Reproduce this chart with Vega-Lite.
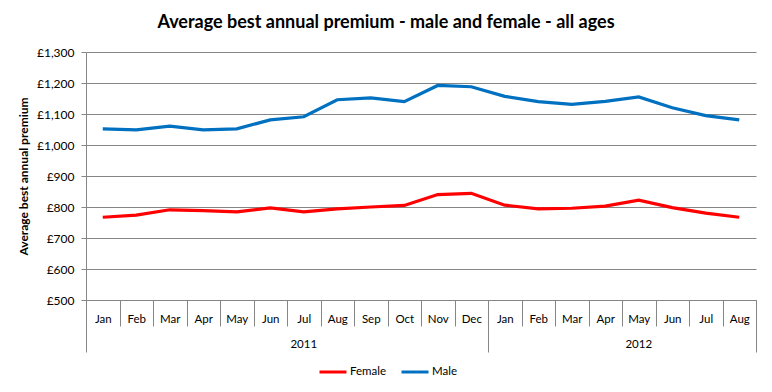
{
  "$schema": "https://vega.github.io/schema/vega-lite/v6.json",
  "autosize": "none",
  "width": 670,
  "height": 248,
  "padding": {"left": 86, "top": 52, "right": 16, "bottom": 92},
  "background": "white",
  "title": {
    "text": "Average best annual premium - male and female - all ages",
    "font": "Lato",
    "fontSize": 18,
    "fontWeight": "bold",
    "color": "#000000",
    "anchor": "middle",
    "dx": -35,
    "offset": 14
  },
  "config": {
    "view": {"stroke": null},
    "font": "Lato"
  },
  "data": {
    "values": [
      {"period": "Jan 2011", "sex": "Female", "premium": 767},
      {"period": "Feb 2011", "sex": "Female", "premium": 774},
      {"period": "Mar 2011", "sex": "Female", "premium": 791},
      {"period": "Apr 2011", "sex": "Female", "premium": 788},
      {"period": "May 2011", "sex": "Female", "premium": 784},
      {"period": "Jun 2011", "sex": "Female", "premium": 797},
      {"period": "Jul 2011", "sex": "Female", "premium": 784},
      {"period": "Aug 2011", "sex": "Female", "premium": 794},
      {"period": "Sep 2011", "sex": "Female", "premium": 800},
      {"period": "Oct 2011", "sex": "Female", "premium": 805},
      {"period": "Nov 2011", "sex": "Female", "premium": 840},
      {"period": "Dec 2011", "sex": "Female", "premium": 844},
      {"period": "Jan 2012", "sex": "Female", "premium": 806},
      {"period": "Feb 2012", "sex": "Female", "premium": 794},
      {"period": "Mar 2012", "sex": "Female", "premium": 796},
      {"period": "Apr 2012", "sex": "Female", "premium": 803},
      {"period": "May 2012", "sex": "Female", "premium": 822},
      {"period": "Jun 2012", "sex": "Female", "premium": 798},
      {"period": "Jul 2012", "sex": "Female", "premium": 780},
      {"period": "Aug 2012", "sex": "Female", "premium": 767},
      {"period": "Jan 2011", "sex": "Male", "premium": 1052},
      {"period": "Feb 2011", "sex": "Male", "premium": 1049},
      {"period": "Mar 2011", "sex": "Male", "premium": 1061},
      {"period": "Apr 2011", "sex": "Male", "premium": 1049},
      {"period": "May 2011", "sex": "Male", "premium": 1052},
      {"period": "Jun 2011", "sex": "Male", "premium": 1081},
      {"period": "Jul 2011", "sex": "Male", "premium": 1091},
      {"period": "Aug 2011", "sex": "Male", "premium": 1146},
      {"period": "Sep 2011", "sex": "Male", "premium": 1152},
      {"period": "Oct 2011", "sex": "Male", "premium": 1140},
      {"period": "Nov 2011", "sex": "Male", "premium": 1192},
      {"period": "Dec 2011", "sex": "Male", "premium": 1188},
      {"period": "Jan 2012", "sex": "Male", "premium": 1157},
      {"period": "Feb 2012", "sex": "Male", "premium": 1140},
      {"period": "Mar 2012", "sex": "Male", "premium": 1131},
      {"period": "Apr 2012", "sex": "Male", "premium": 1141},
      {"period": "May 2012", "sex": "Male", "premium": 1155},
      {"period": "Jun 2012", "sex": "Male", "premium": 1120},
      {"period": "Jul 2012", "sex": "Male", "premium": 1095},
      {"period": "Aug 2012", "sex": "Male", "premium": 1081}
    ]
  },
  "layer": [
    {
      "mark": {"type": "line", "strokeWidth": 3.2},
      "encoding": {
        "x": {
          "field": "period",
          "type": "ordinal",
          "scale": {
            "domain": ["Jan 2011", "Feb 2011", "Mar 2011", "Apr 2011", "May 2011", "Jun 2011", "Jul 2011", "Aug 2011", "Sep 2011", "Oct 2011", "Nov 2011", "Dec 2011", "Jan 2012", "Feb 2012", "Mar 2012", "Apr 2012", "May 2012", "Jun 2012", "Jul 2012", "Aug 2012"],
            "paddingInner": 0,
            "paddingOuter": 0
          },
          "axis": {
            "orient": "bottom",
            "title": null,
            "labelExpr": "isString(datum.value) ? split(datum.value, ' ')[0] : ''",
            "labelAngle": 0,
            "labelFont": "Lato",
            "labelFontSize": 11.5,
            "labelColor": "#000000",
            "labelPadding": -13,
            "tickBand": "extent",
            "tickSize": 26,
            "tickColor": "#868686",
            "domainColor": "#868686",
            "grid": false
          }
        },
        "y": {
          "field": "premium",
          "type": "quantitative",
          "scale": {"domain": [500, 1300], "nice": false, "zero": false},
          "axis": {
            "title": "Average best annual premium",
            "titleFont": "Lato",
            "titleFontSize": 12,
            "titleFontWeight": "bold",
            "titleColor": "#000000",
            "titlePadding": 6,
            "values": [500, 600, 700, 800, 900, 1000, 1100, 1200, 1300],
            "labelExpr": "'£' + format(datum.value, ',')",
            "labelFont": "Lato",
            "labelFontSize": 12,
            "labelColor": "#000000",
            "labelPadding": 7,
            "tickSize": 5,
            "tickColor": "#868686",
            "domainColor": "#868686",
            "grid": true,
            "gridColor": "#868686",
            "gridWidth": 1
          }
        },
        "color": {
          "field": "sex",
          "type": "nominal",
          "scale": {"domain": ["Female", "Male"], "range": ["#FF0000", "#0070C0"]},
          "legend": {
            "title": null,
            "orient": "none",
            "direction": "horizontal",
            "legendX": 232,
            "legendY": 305,
            "symbolType": "stroke",
            "symbolSize": 729,
            "symbolStrokeWidth": 3,
            "labelFont": "Lato",
            "labelFontSize": 11.5,
            "labelColor": "#000000",
            "labelOffset": 2,
            "columnPadding": 8
          }
        }
      }
    },
    {
      "mark": {"type": "rule", "strokeOpacity": 0},
      "encoding": {
        "x": {
          "field": "period",
          "type": "ordinal",
          "axis": {
            "orient": "bottom",
            "title": null,
            "values": ["Jul 2011", "May 2012"],
            "bandPosition": 0,
            "labelExpr": "split(datum.value, ' ')[1]",
            "labelAngle": 0,
            "labelFont": "Lato",
            "labelFontSize": 11.5,
            "labelColor": "#000000",
            "labelPadding": 38,
            "ticks": false,
            "domain": false,
            "grid": false
          }
        }
      }
    },
    {
      "mark": {"type": "rule", "strokeOpacity": 0},
      "encoding": {
        "x": {
          "field": "period",
          "type": "ordinal",
          "axis": {
            "orient": "bottom",
            "title": null,
            "values": ["Jan 2011", "Jan 2012"],
            "bandPosition": 0,
            "labels": false,
            "tickSize": 52,
            "tickColor": "#868686",
            "domain": false,
            "grid": false
          }
        }
      }
    },
    {
      "mark": {"type": "rule", "strokeOpacity": 0},
      "encoding": {
        "x": {
          "field": "period",
          "type": "ordinal",
          "axis": {
            "orient": "bottom",
            "title": null,
            "values": ["Aug 2012"],
            "bandPosition": 1,
            "labels": false,
            "tickSize": 52,
            "tickColor": "#868686",
            "domain": false,
            "grid": false
          }
        }
      }
    }
  ],
  "resolve": {"axis": {"x": "independent"}}
}
